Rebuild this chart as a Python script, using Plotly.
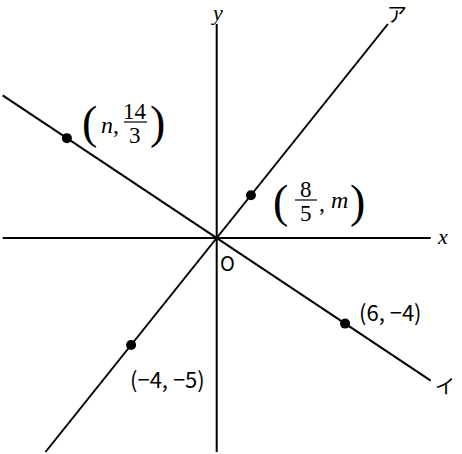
import plotly.graph_objects as go

# data
slope_a = 5 / 4      # line ア  y = 5/4 x
slope_b = -2 / 3     # line イ  y = -2/3 x
line_a_x = [-8, 8]
line_b_x = [-10, 10]
axis_span = [-10, 10]
pt_x = [-7, 8 / 5, -4, 6]
pt_y = [14 / 3, 2, -5, -4]

W, H = 462, 454
S = 21.4            # pixels per unit
OX, OY = 216.7, 238  # origin pixel
xr = [-OX / S, (W - OX) / S]
yr = [-(H - OY) / S, OY / S]


def px(p):
    return xr[0] + p / S


def py(p):
    return yr[1] - p / S


fig = go.Figure()
blk = "black"
# axes
fig.add_trace(go.Scatter(x=axis_span, y=[0, 0], mode="lines", line=dict(color=blk, width=2), hoverinfo="skip"))
fig.add_trace(go.Scatter(x=[0, 0], y=axis_span, mode="lines", line=dict(color=blk, width=2), hoverinfo="skip"))
# lines
fig.add_trace(go.Scatter(x=line_a_x, y=[slope_a * v for v in line_a_x], mode="lines",
                         line=dict(color=blk, width=2), hoverinfo="skip"))
fig.add_trace(go.Scatter(x=line_b_x, y=[slope_b * v for v in line_b_x], mode="lines",
                         line=dict(color=blk, width=2), hoverinfo="skip"))
# points
fig.add_trace(go.Scatter(x=pt_x, y=pt_y, mode="markers", marker=dict(color=blk, size=10), hoverinfo="skip"))

SERIF = "Liberation Serif, Times New Roman, serif"
SANS = "Noto Sans CJK JP, Noto Sans, sans-serif"


def lab(text, x, y, size=20, family=SANS):
    fig.add_annotation(x=px(x), y=py(y), text=text, showarrow=False,
                       font=dict(family=family, size=size, color=blk),
                       xanchor="center", yanchor="middle")


def bar(x0, x1, y):
    fig.add_shape(type="line", x0=px(x0), x1=px(x1), y0=py(y), y1=py(y),
                  line=dict(color=blk, width=1.2))


lab("<i>y</i>", 217, 12, 22, SERIF)
lab("<i>x</i>", 442, 236, 22, SERIF)
lab("O", 227, 262, 20)
lab("ア", 397, 13, 20)
lab("イ", 445, 385, 20)
lab("(−4, −5)", 167, 378, 22)
lab("(6, −4)", 390, 311, 22)

# (n, 14/3)
lab("(", 89, 122, 46, SERIF)
lab("<i>n</i>,", 110, 125, 24, SERIF)
lab("14", 135, 111, 23, SERIF)
bar(124, 147, 122)
lab("3", 135, 135, 23, SERIF)
lab(")", 157, 122, 46, SERIF)

# (8/5, m)
lab("(", 280, 201, 46, SERIF)
lab("8", 306, 189, 23, SERIF)
bar(295, 317, 200)
lab("5", 306, 213, 23, SERIF)
lab(",", 322, 203, 24, SERIF)
lab("<i>m</i>", 339, 200, 24, SERIF)
lab(")", 357, 201, 46, SERIF)

fig.update_layout(width=W, height=H, margin=dict(l=0, r=0, t=0, b=0),
                  plot_bgcolor="white", paper_bgcolor="white", showlegend=False,
                  xaxis=dict(range=xr, visible=False, fixedrange=True),
                  yaxis=dict(range=yr, visible=False, fixedrange=True))
fig.write_html("out.html", config={"displayModeBar": False},
               post_script="document.body.style.margin='0';")
